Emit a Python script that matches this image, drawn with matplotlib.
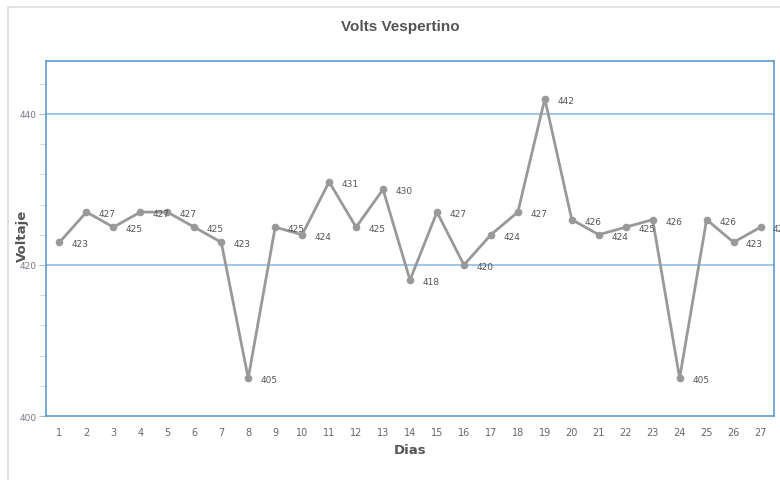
import matplotlib
matplotlib.use("Agg")
import matplotlib.pyplot as plt
from matplotlib.patches import Rectangle
from matplotlib.ticker import MultipleLocator

dias = list(range(1, 28))
voltaje = [423, 427, 425, 427, 427, 425, 423, 405, 425, 424, 431, 425, 430, 418,
           427, 420, 424, 427, 442, 426, 424, 425, 426, 405, 426, 423, 425]
y_ticks = [400, 420, 440]

fig = plt.figure(figsize=(7.8, 4.81), dpi=100)
fig.patches.append(Rectangle((8 / 780, -0.1), 1.0, 1 - 8 / 481 + 0.1,
                             transform=fig.transFigure, fill=False,
                             edgecolor="#dddddd", linewidth=1.2))
ax = fig.add_axes([46 / 780, (481 - 417) / 481, (774 - 46) / 780, (417 - 62) / 481])

spine_c = "#5b9bd5"
for s in ax.spines.values():
    s.set_color(spine_c)
    s.set_linewidth(1.2)

ax.set_xlim(0.5, 27.5)
ax.set_ylim(400, 447)
ax.set_yticks(y_ticks)
ax.yaxis.set_minor_locator(MultipleLocator(4))
for yv in y_ticks[1:]:
    ax.axhline(yv, color="#8fbde6", linewidth=1.2, zorder=1)

ax.set_xticks(dias)
ax.set_xticklabels([str(d) for d in dias])
ax.tick_params(axis="x", length=0, pad=8, labelsize=7, labelcolor="#666666")
ax.tick_params(axis="y", which="major", length=5, color="#bbbbbb", labelsize=6.5,
               labelcolor="#777788", pad=2)
ax.tick_params(axis="y", which="minor", length=4, color="#cccccc")

ax.plot(dias, voltaje, color="#999999", linewidth=2.0, marker="o", markersize=4.5,
        zorder=3, clip_on=False)
for d, v in zip(dias, voltaje):
    ax.annotate(str(v), (d, v), xytext=(9, -1), textcoords="offset points",
                fontsize=6.5, color="#555555", va="center", ha="left",
                annotation_clip=False)

fig.text(400 / 780, 1 - 27 / 481, "Volts Vespertino", ha="center", va="center",
         fontsize=11, fontweight="bold", color="#555555", family="Liberation Sans")
ax.set_xlabel("Dias", fontsize=9.5, fontweight="bold", color="#555555", labelpad=4)
fig.text(22 / 780, 1 - 236 / 481, "Voltaje", rotation=90, ha="center", va="center",
         fontsize=9.5, fontweight="bold", color="#555555")

fig.savefig("out.png", dpi=100)
